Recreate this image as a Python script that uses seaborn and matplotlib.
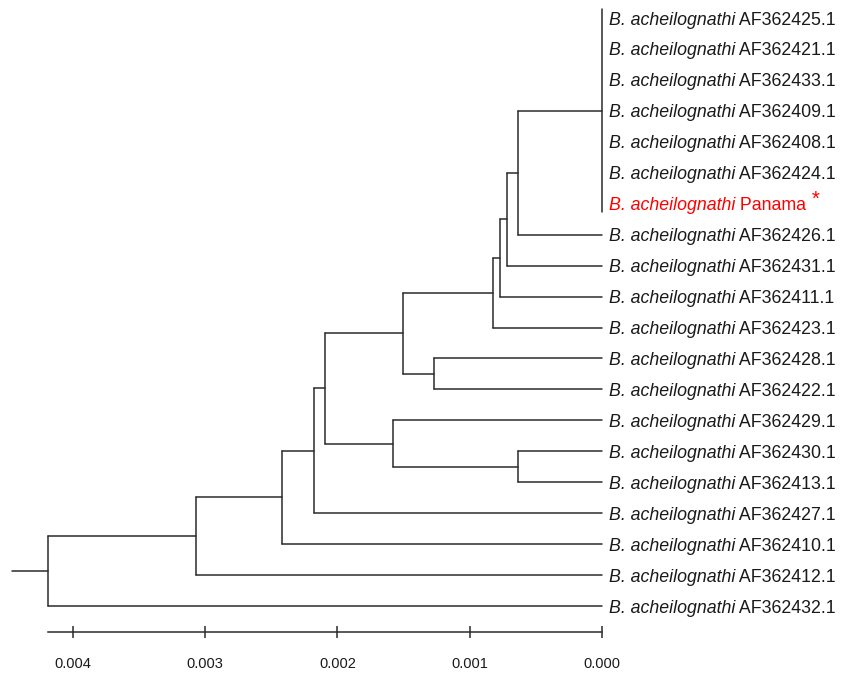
import numpy as np
import pandas as pd
import matplotlib
matplotlib.use("Agg")
import matplotlib.pyplot as plt
import seaborn as sns

# Hojas del árbol (de arriba a abajo)
leaf_labels = ["AF362425.1", "AF362421.1", "AF362433.1", "AF362409.1", "AF362408.1",
               "AF362424.1", "Panama", "AF362426.1", "AF362431.1", "AF362411.1",
               "AF362423.1", "AF362428.1", "AF362422.1", "AF362429.1", "AF362430.1",
               "AF362413.1", "AF362427.1", "AF362410.1", "AF362412.1", "AF362432.1"]
species = "B. acheilognathi"
highlight = "Panama"

# Nodos internos: nombre, altura (distancia) e hijos
node_names = ["M", "L", "K", "J", "H", "I", "E", "G", "F", "D", "C", "B", "A", "root"]
node_heights = [0.0, 0.000631, 0.000718, 0.000771, 0.000824, 0.001270, 0.001504,
                0.000635, 0.001580, 0.002094, 0.002177, 0.002419, 0.003069, 0.004187]
node_children = [
    ["AF362425.1", "AF362421.1", "AF362433.1", "AF362409.1", "AF362408.1", "AF362424.1", "Panama"],
    ["M", "AF362426.1"],
    ["L", "AF362431.1"],
    ["K", "AF362411.1"],
    ["J", "AF362423.1"],
    ["AF362428.1", "AF362422.1"],
    ["H", "I"],
    ["AF362430.1", "AF362413.1"],
    ["AF362429.1", "G"],
    ["E", "F"],
    ["D", "AF362427.1"],
    ["C", "AF362410.1"],
    ["B", "AF362412.1"],
    ["A", "AF362432.1"],
]
root_stub = 0.000272
scale_ticks = [0.004, 0.003, 0.002, 0.001, 0.000]

# Posiciones
pos_x = {name: 0.0 for name in leaf_labels}
pos_y = {name: float(i) for i, name in enumerate(leaf_labels)}
for name, h, kids in zip(node_names, node_heights, node_children):
    pos_x[name] = h
    ys = [pos_y[k] for k in kids]
    pos_y[name] = (min(ys) + max(ys)) / 2

# Segmentos del árbol
rows = []
seg = 0
for name, h, kids in zip(node_names, node_heights, node_children):
    ys = [pos_y[k] for k in kids]
    pad = 0.28 if h == 0 else 0.0
    rows += [(seg, h, min(ys) - pad), (seg, h, max(ys) + pad)]
    seg += 1
    for k in kids:
        if pos_x[k] != h:
            rows += [(seg, h, pos_y[k]), (seg, pos_x[k], pos_y[k])]
            seg += 1
root_h = node_heights[-1]
rows += [(seg, root_h, pos_y["root"]), (seg, root_h + root_stub, pos_y["root"])]
segs = pd.DataFrame(rows, columns=["seg", "x", "y"])

sns.set_style("white")
plt.rcParams["font.family"] = ["Liberation Sans", "DejaVu Sans"]

fig = plt.figure(figsize=(8.5, 6.73), dpi=100)
ax = fig.add_axes([0, 41 / 673, 1, 632 / 673])

sns.lineplot(data=segs, x="x", y="y", units="seg", estimator=None, sort=False,
             color="#2b2b2b", linewidth=1.1, ax=ax, legend=False)

ax.set_xlim(0.00455, -0.001875)
ax.set_ylim(19.838, -0.5816)

# Etiquetas de las hojas
for name in leaf_labels:
    col = "red" if name == highlight else "#1a1a1a"
    t1 = ax.annotate(species, xy=(0, pos_y[name]), xytext=(5, -4.7),
                     textcoords="offset points", ha="left", va="baseline",
                     fontsize=12.8, style="italic", color=col)
    t2 = ax.annotate(" " + name, xy=(1, 0), xycoords=t1, ha="left", va="bottom",
                     fontsize=12.8, color=col)
    if name == highlight:
        ax.annotate(" *", xy=(1, 0), xycoords=t2, xytext=(0, 4),
                    textcoords="offset points", ha="left", va="bottom",
                    fontsize=15, color=col)

# Escala
for s in ["top", "right", "left"]:
    ax.spines[s].set_visible(False)
ax.spines["bottom"].set_bounds(0, root_h)
ax.spines["bottom"].set_color("#2b2b2b")
ax.spines["bottom"].set_linewidth(1.1)
ax.set_xticks(scale_ticks)
ax.set_xticklabels([f"{v:.3f}" for v in scale_ticks], fontsize=10.5, color="#1a1a1a")
ax.tick_params(axis="x", bottom=True, direction="inout", length=8.6, width=1.1,
               color="#2b2b2b", pad=14)
ax.set_yticks([])
ax.set_xlabel("")
ax.set_ylabel("")

fig.savefig("out.png", dpi=100)
